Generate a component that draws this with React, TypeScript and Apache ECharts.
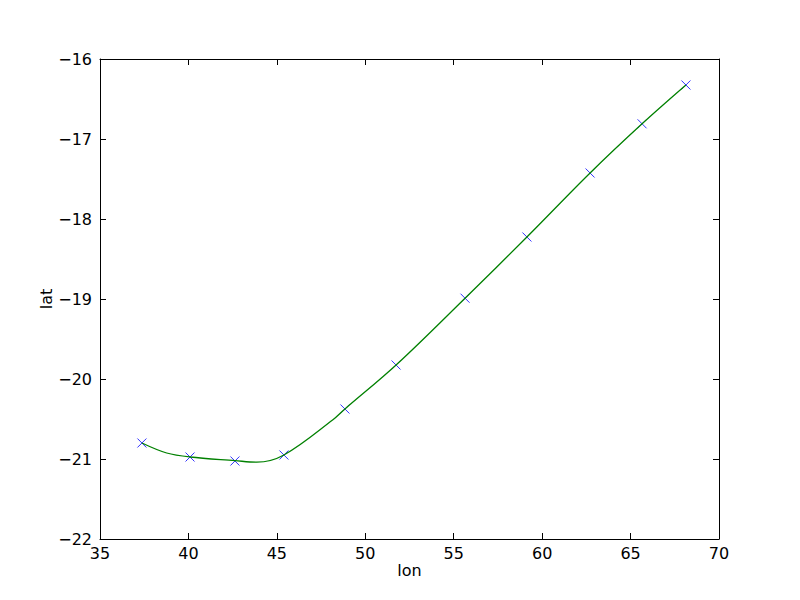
import React, { useEffect, useRef } from "react";
import * as echarts from "echarts";

// Observed positions (blue x markers)
const markerLon = [37.37, 40.09, 42.63, 45.4, 48.85, 51.74, 55.64, 59.14, 62.71, 65.65, 68.13];
const markerLat = [-20.8, -20.975, -21.025, -20.95, -20.375, -19.825, -18.99, -18.225, -17.425, -16.81, -16.325];

// Fitted curve
const curveLon = [37.37, 38.77, 40.09, 42.63, 43.86, 45.4, 48.17, 48.85, 51.74, 55.64, 59.14, 62.71, 65.65, 68.13];
const curveLat = [-20.8, -20.925, -20.975, -21.02, -21.04, -20.95, -20.51, -20.375, -19.825, -18.99, -18.225, -17.425, -16.81, -16.325];

const xTicks = { min: 35, max: 70, interval: 5 };
const yTicks = { min: -22, max: -16, interval: 1 };

const FONT = "DejaVu Sans";
const fmt = (v: number) => String(v).replace("-", "\u2212");

export default function App() {
  const ref = useRef<HTMLDivElement>(null);
  useEffect(() => {
    if (!ref.current) return;
    const chart = echarts.init(ref.current, undefined, { renderer: "svg" });
    const axisLine = { show: true, onZero: false, lineStyle: { color: "#000", width: 1 } };
    const tick = { show: true, inside: true, length: 6, lineStyle: { color: "#000", width: 1 } };
    chart.setOption({
      animation: false,
      backgroundColor: "#fff",
      grid: { left: 100, right: 81, top: 59, bottom: 61, containLabel: false },
      xAxis: [
        {
          type: "value",
          ...xTicks,
          position: "bottom",
          name: "lon",
          nameLocation: "middle",
          nameGap: 23,
          nameMoveOverlap: false,
          nameTextStyle: { fontFamily: FONT, fontSize: 16, color: "#000" },
          axisLine,
          axisTick: tick,
          splitLine: { show: false },
          axisLabel: { fontFamily: FONT, fontSize: 16, color: "#000", margin: 6, formatter: fmt },
        },
        {
          type: "value",
          ...xTicks,
          position: "top",
          axisLine,
          axisTick: tick,
          splitLine: { show: false },
          axisLabel: { show: false },
        },
      ],
      yAxis: [
        {
          type: "value",
          ...yTicks,
          position: "left",
          name: "lat",
          nameLocation: "middle",
          nameGap: 46,
          nameRotate: 90,
          nameMoveOverlap: false,
          nameTextStyle: { fontFamily: FONT, fontSize: 16, color: "#000" },
          axisLine,
          axisTick: tick,
          splitLine: { show: false },
          axisLabel: { fontFamily: FONT, fontSize: 16, color: "#000", margin: 8, formatter: fmt },
        },
        {
          type: "value",
          ...yTicks,
          position: "right",
          axisLine,
          axisTick: tick,
          splitLine: { show: false },
          axisLabel: { show: false },
        },
      ],
      series: [
        {
          type: "scatter",
          data: markerLon.map((x, i) => [x, markerLat[i]]),
          symbol: "path://M0,0L10,10M10,0L0,10",
          symbolSize: 9,
          itemStyle: { color: "transparent", borderColor: "#0000ff", borderWidth: 1 },
          z: 2,
        },
        {
          type: "line",
          data: curveLon.map((x, i) => [x, curveLat[i]]),
          smooth: 0.35,
          showSymbol: false,
          lineStyle: { color: "#008000", width: 1.3 },
          z: 3,
        },
      ],
    });
    return () => chart.dispose();
  }, []);
  return <div ref={ref} style={{ width: 800, height: 600, margin: -8 }} />;
}
